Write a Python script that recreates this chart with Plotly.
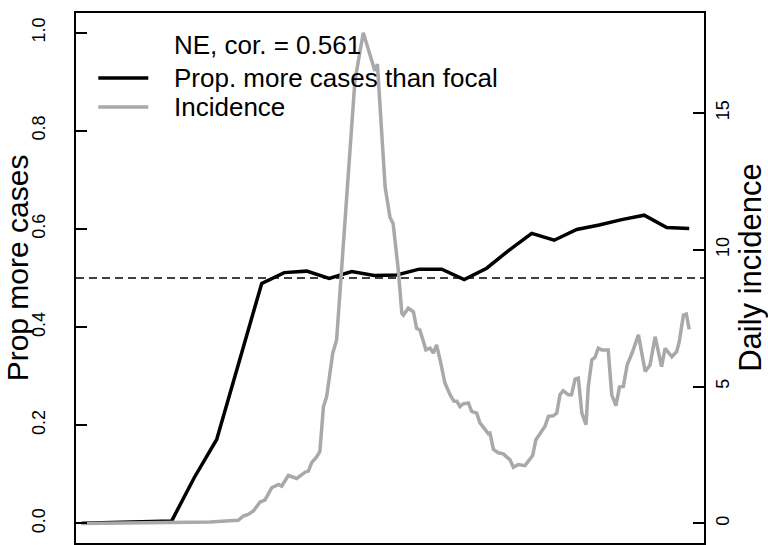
import plotly.graph_objects as go

# ---- data ----
week_days = [0, 7, 14, 21, 28, 35, 42, 49, 56, 63, 70, 77, 84, 91, 98, 105, 112,
             119, 126, 133, 140, 147, 154, 161, 168, 175, 182, 189]
prop_more = [0.0, 0.001, 0.002, 0.003, 0.005, 0.093, 0.171, 0.33, 0.489, 0.511,
             0.514, 0.499, 0.513, 0.505, 0.506, 0.518, 0.518, 0.497, 0.520, 0.557,
             0.591, 0.577, 0.599, 0.608, 0.619, 0.628, 0.603, 0.601]

inc_days = [0, 39.9, 48.7, 50.3, 51.8, 53.4, 55.5, 57.0, 59.1, 61.2,
            62.2, 64.3, 66.9, 69.5, 70.5, 71.6, 73.1, 74.1, 75.2, 76.2,
            78.1, 79.3, 85.0, 87.6, 91.2, 92.0, 94.4, 95.9, 96.9, 98.5,
            99.6, 100.1, 101.6, 103.2, 104.2, 105.2, 107.1, 108.4, 109.4, 110.4,
            111.5, 113.0, 114.6, 115.8, 116.7, 117.7, 118.7, 120.3, 121.3, 122.9,
            123.9, 125.5, 126.5, 127.0, 128.1, 129.6, 131.2, 132.2, 133.2, 134.3,
            135.8, 137.9, 139.5, 140.3, 141.3, 142.6, 144.1, 145.2, 146.7, 147.8,
            148.8, 149.8, 151.4, 152.4, 153.5, 154.5, 155.6, 156.9, 157.6, 158.7,
            159.7, 160.7, 161.8, 163.8, 164.9, 166.2, 167.3, 168.5, 169.7, 171.4,
            173.2, 175.3, 176.8, 178.4, 180.4, 181.5, 183.6, 185.1, 185.9, 187.2,
            188.1, 189.0]
incidence = [0.0, 0.05, 0.11, 0.27, 0.33, 0.45, 0.78, 0.85, 1.30, 1.42,
             1.36, 1.75, 1.64, 1.87, 1.91, 2.23, 2.43, 2.63, 4.26, 4.63,
             6.22, 6.70, 16.17, 17.93, 16.54, 16.78, 12.29, 11.19, 10.95, 9.25,
             7.68, 7.61, 7.86, 7.73, 7.13, 7.07, 6.34, 6.40, 6.22, 6.52,
             5.97, 5.13, 4.70, 4.46, 4.46, 4.27, 4.37, 4.40, 4.09, 4.03,
             3.67, 3.42, 3.28, 3.30, 2.70, 2.58, 2.54, 2.43, 2.33, 2.05,
             2.15, 2.11, 2.39, 2.48, 3.06, 3.28, 3.54, 3.91, 3.93, 4.03,
             4.70, 4.85, 4.70, 4.70, 5.27, 5.31, 4.03, 3.61, 5.00, 5.97,
             6.07, 6.40, 6.34, 6.34, 4.70, 4.30, 4.98, 5.00, 5.79, 6.28,
             6.89, 5.55, 5.79, 6.82, 5.73, 6.40, 6.09, 6.28, 6.64, 7.61,
             7.65, 7.09]

ref_level = 0.5
left_ticks = [0.0, 0.2, 0.4, 0.6, 0.8, 1.0]
left_tick_labels = ["0.0", "0.2", "0.4", "0.6", "0.8", "1.0"]
right_ticks = [0, 5, 10, 15]
right_tick_labels = ["0", "5", "10", "15"]

legend_title = "NE, cor. = 0.561"
legend_labels = ["Prop. more cases than focal", "Incidence"]
left_title = "Prop more cases"
right_title = "Daily incidence"

BLACK = "#000000"
GRAY = "#A9A9A9"
FONT = "Liberation Sans, Arial, Helvetica, sans-serif"

fig = go.Figure()
fig.add_trace(go.Scatter(x=week_days, y=prop_more, mode="lines",
                         line=dict(color=BLACK, width=3.5), yaxis="y",
                         name=legend_labels[0], showlegend=False))
fig.add_trace(go.Scatter(x=inc_days, y=incidence, mode="lines",
                         line=dict(color=GRAY, width=3.5), yaxis="y2",
                         name=legend_labels[1], showlegend=False))

# reference line
fig.add_shape(type="line", xref="paper", x0=0, x1=1, yref="y", y0=ref_level, y1=ref_level,
              line=dict(color=BLACK, width=1.5, dash="8px,5px"), layer="below")

# legend (drawn manually, R-style without box)
fig.add_shape(type="line", xref="paper", yref="paper", x0=0.0355, x1=0.1151, y0=0.8774, y1=0.8774,
              line=dict(color=BLACK, width=3.5))
fig.add_shape(type="line", xref="paper", yref="paper", x0=0.0355, x1=0.1151, y0=0.8226, y1=0.8226,
              line=dict(color=GRAY, width=3.5))
for txt, yy in zip([legend_title] + legend_labels, [0.9395, 0.8768, 0.8221]):
    fig.add_annotation(text=txt, xref="paper", yref="paper", x=0.1524, y=yy,
                       xanchor="left", yanchor="middle", showarrow=False,
                       font=dict(size=26, color=BLACK, family=FONT))

# axis titles
fig.add_annotation(text=left_title, xref="paper", yref="paper", x=-0.0940, y=0.52,
                   textangle=-90, xanchor="center", yanchor="middle", showarrow=False,
                   font=dict(size=30, color=BLACK, family=FONT))
fig.add_annotation(text=right_title, xref="paper", yref="paper", x=1.0740, y=0.52,
                   textangle=-90, xanchor="center", yanchor="middle", showarrow=False,
                   font=dict(size=31, color=BLACK, family=FONT))

fig.update_layout(
    width=768, height=545, autosize=False,
    margin=dict(l=76, r=64, t=13, b=2, pad=0),
    paper_bgcolor="white", plot_bgcolor="white",
    font=dict(family=FONT, color=BLACK),
    showlegend=False,
    xaxis=dict(range=[-1.77, 193.6], showline=True, mirror=True, linecolor=BLACK,
               linewidth=1.5, ticks="", showticklabels=False, showgrid=False,
               zeroline=False),
    yaxis=dict(range=[-0.04, 1.04], tickvals=left_ticks, ticktext=left_tick_labels,
               ticks="inside", ticklen=11, tickwidth=1.5, tickcolor=BLACK,
               tickangle=-90, tickfont=dict(size=18, color=BLACK, family=FONT),
               ticklabelstandoff=22, automargin=False,
               showline=True, linecolor=BLACK, linewidth=1.5,
               showgrid=False, zeroline=False),
    yaxis2=dict(range=[-0.717, 18.65], overlaying="y", side="right",
                tickvals=right_ticks, ticktext=right_tick_labels,
                ticks="inside", ticklen=11, tickwidth=1.5, tickcolor=BLACK,
                tickangle=-90, tickfont=dict(size=18, color=BLACK, family=FONT),
                ticklabelstandoff=2, automargin=False,
                showline=True, linecolor=BLACK, linewidth=1.5,
                showgrid=False, zeroline=False),
)

fig.write_html("out.html", config={"displayModeBar": False},
               post_script="document.body.style.margin='0';document.body.style.overflow='hidden';")
